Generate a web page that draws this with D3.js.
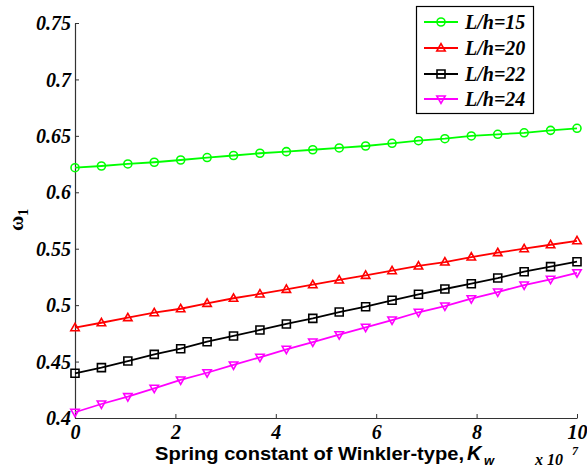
<!DOCTYPE html>
<html>
<head>
<meta charset="utf-8">
<script src="https://cdn.jsdelivr.net/npm/d3@7"></script>
<style>
  html, body { margin: 0; padding: 0; background: #fff; }
  svg { display: block; }
</style>
</head>
<body>
<svg id="chart" width="587" height="467"></svg>
<script>
// ---- data ----
const kw = [0, 0.5263, 1.0526, 1.5789, 2.1053, 2.6316, 3.1579, 3.6842, 4.2105, 4.7368,
            5.2632, 5.7895, 6.3158, 6.8421, 7.3684, 7.8947, 8.4211, 8.9474, 9.4737, 10];
const seriesNames = ["L/h=15", "L/h=20", "L/h=22", "L/h=24"];
const lh15 = [0.6218, 0.6233, 0.6251, 0.6266, 0.6286, 0.6308, 0.6326, 0.6346, 0.6360, 0.6377,
              0.6393, 0.6410, 0.6434, 0.6457, 0.6475, 0.6499, 0.6514, 0.6527, 0.6549, 0.6567];
const lh20 = [0.4800, 0.4844, 0.4889, 0.4933, 0.4968, 0.5016, 0.5061, 0.5099, 0.5140, 0.5181,
              0.5223, 0.5264, 0.5305, 0.5347, 0.5382, 0.5426, 0.5465, 0.5500, 0.5535, 0.5570];
const lh22 = [0.4396, 0.4446, 0.4505, 0.4564, 0.4614, 0.4676, 0.4727, 0.4780, 0.4833, 0.4883,
              0.4939, 0.4986, 0.5043, 0.5096, 0.5143, 0.5190, 0.5240, 0.5296, 0.5341, 0.5385];
const lh24 = [0.4051, 0.4124, 0.4189, 0.4263, 0.4337, 0.4401, 0.4470, 0.4538, 0.4609, 0.4673,
              0.4738, 0.4804, 0.4868, 0.4937, 0.4992, 0.5057, 0.5116, 0.5178, 0.5229, 0.5287];
const xTicks = [0, 2, 4, 6, 8, 10];
const yTicks = [0.4, 0.45, 0.5, 0.55, 0.6, 0.65, 0.7, 0.75];
const yTickLabels = ["0.4", "0.45", "0.5", "0.55", "0.6", "0.65", "0.7", "0.75"];
const colors = ["#00ff00", "#ff0000", "#000000", "#ff00ff"];
const markers = ["circle", "triangle", "square", "triangleDown"];

// ---- layout ----
const svg = d3.select("#chart");
const W = 587, H = 467;
const x = d3.scaleLinear().domain([0, 10]).range([75, 577]);
const y = d3.scaleLinear().domain([0.4, 0.75]).range([418, 23]);

svg.append("rect").attr("width", W).attr("height", H).attr("fill", "#fff");

const serif = "'Liberation Serif', 'Times New Roman', serif";
const sans = "'Liberation Sans', Arial, sans-serif";
function serifBI(sel, size) {
  return sel.style("font-family", serif).style("font-weight", "bold")
    .style("font-style", "italic").style("font-size", size + "px").attr("fill", "#000");
}

// axes
const xAxis = d3.axisBottom(x).tickValues(xTicks).tickSizeInner(-4).tickSizeOuter(0).tickPadding(8)
  .tickFormat(d3.format("d"));
const yAxis = d3.axisLeft(y).tickValues(yTicks).tickSizeInner(-4).tickSizeOuter(0).tickPadding(4)
  .tickFormat((d, i) => yTickLabels[i]);

const gx = svg.append("g").attr("transform", `translate(0,${y(0.4)})`).call(xAxis);
const gy = svg.append("g").attr("transform", `translate(${x(0)},0)`).call(yAxis);
[gx, gy].forEach(g => {
  g.attr("font-family", null).attr("font-size", null);
  g.selectAll(".domain").attr("stroke", "#333").attr("stroke-width", 1.2);
  g.selectAll(".tick line").attr("stroke", "#333").attr("stroke-width", 1);
  serifBI(g.selectAll(".tick text"), 20);
});
gx.selectAll(".tick text").attr("dy", "0.66em");
gy.selectAll(".tick text").attr("dy", "0.33em");

// marker shapes
function markerPath(type, s) {
  if (type === "circle") return d3.symbol(d3.symbolCircle, Math.PI * s * s)();
  if (type === "square") return `M${-s},${-s}H${s}V${s}H${-s}Z`;
  if (type === "triangle") return `M0,${-s * 1.1}L${s * 1.05},${s * 0.75}L${-s * 1.05},${s * 0.75}Z`;
  if (type === "triangleDown") return `M0,${s * 1.1}L${s * 1.05},${-s * 0.75}L${-s * 1.05},${-s * 0.75}Z`;
}

const allSeries = [lh15, lh20, lh22, lh24];
const line = d3.line().x((d, i) => x(kw[i])).y(d => y(d));

allSeries.forEach((vals, si) => {
  const g = svg.append("g");
  g.append("path").attr("d", line(vals)).attr("fill", "none")
    .attr("stroke", colors[si]).attr("stroke-width", 1.8);
  g.selectAll("path.mk").data(vals).enter().append("path").attr("class", "mk")
    .attr("transform", (d, i) => `translate(${x(kw[i])},${y(d)})`)
    .attr("d", markerPath(markers[si], 4))
    .attr("fill", "none").attr("stroke", colors[si]).attr("stroke-width", 1.6);
});

// legend
const lg = svg.append("g");
lg.append("rect").attr("x", 416.5).attr("y", 6.5).attr("width", 117).attr("height", 107)
  .attr("fill", "#fff").attr("stroke", "#000").attr("stroke-width", 1.2);
const rowY = [22, 48, 74, 99];
seriesNames.forEach((name, i) => {
  lg.append("line").attr("x1", 424).attr("x2", 458).attr("y1", rowY[i]).attr("y2", rowY[i])
    .attr("stroke", colors[i]).attr("stroke-width", 1.8);
  lg.append("path").attr("transform", `translate(441,${rowY[i]})`)
    .attr("d", markerPath(markers[i], 4)).attr("fill", "none")
    .attr("stroke", colors[i]).attr("stroke-width", 1.6);
  serifBI(lg.append("text"), 20).attr("x", 465).attr("y", rowY[i]).attr("dy", "0.33em").text(name);
});

// x axis label
svg.append("text").attr("x", 155).attr("y", 460)
  .attr("textLength", 309).attr("lengthAdjust", "spacingAndGlyphs")
  .style("font-family", sans).style("font-weight", "bold").style("font-size", "19px")
  .attr("fill", "#000").text("Spring constant of Winkler-type,");
svg.append("text").attr("x", 467).attr("y", 460)
  .style("font-family", sans).style("font-weight", "bold").style("font-style", "italic")
  .style("font-size", "20px").attr("fill", "#000").text("K");
svg.append("text").attr("x", 484).attr("y", 465)
  .style("font-family", sans).style("font-weight", "bold").style("font-style", "italic")
  .style("font-size", "13px").attr("fill", "#000").text("w");

// x 10^7
serifBI(svg.append("text"), 16).attr("x", 535).attr("y", 465).text("x 10");
serifBI(svg.append("text"), 12).attr("x", 572).attr("y", 455).text("7");

// y axis label
const yl = svg.append("text").attr("transform", "translate(23,231) rotate(-90)")
  .style("font-family", serif).style("font-weight", "bold").style("font-size", "21px").attr("fill", "#000");
yl.append("tspan").text("ω");
yl.append("tspan").style("font-size", "14px").attr("dy", 5).text("1");
</script>
</body>
</html>
